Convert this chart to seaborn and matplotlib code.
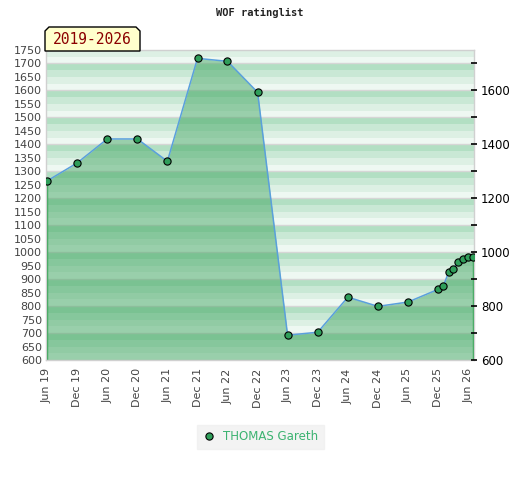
import matplotlib
matplotlib.use("Agg")
import matplotlib.pyplot as plt
import matplotlib.dates as mdates
from matplotlib.lines import Line2D
from matplotlib.patches import Polygon
import seaborn as sns
import pandas as pd

# rating history
dates = ["2019-06-01", "2019-12-01", "2020-06-01", "2020-12-01", "2021-06-01",
         "2021-12-01", "2022-06-01", "2022-12-01", "2023-06-01", "2023-12-01",
         "2024-06-01", "2024-12-01", "2025-06-01", "2025-12-01", "2026-01-01",
         "2026-02-03", "2026-03-01", "2026-04-01", "2026-05-01", "2026-06-01",
         "2026-07-01"]
ratings = [1264, 1331, 1420, 1420, 1337, 1719, 1708, 1593, 692, 703,
           833, 799, 815, 862, 873, 926, 936, 964, 974, 981, 982]
player = "THOMAS Gareth"
period = "2019-2026"
tick_dates = ["2019-06-01", "2019-12-01", "2020-06-01", "2020-12-01", "2021-06-01",
              "2021-12-01", "2022-06-01", "2022-12-01", "2023-06-01", "2023-12-01",
              "2024-06-01", "2024-12-01", "2025-06-01", "2025-12-01", "2026-06-01"]

df = pd.DataFrame({"date": pd.to_datetime(dates), "rating": ratings})
ticks = pd.to_datetime(tick_dates)

sns.set_style("white")
plt.rcParams['font.family'] = ['DejaVu Sans']

fig = plt.figure(figsize=(5.2, 4.8), dpi=100)
ax = fig.add_axes([46 / 520, 1 - 360 / 480, 428 / 520, 310 / 480])

ymin, ymax = 600, 1750
# striped background, each 100 band fades from dark at top to light at bottom
shades = ["#eef8f2", "#ddf0e4", "#c9e8d5", "#b2dfc3"]
for base in range(ymin, 1800, 100):
    for k, c in enumerate(shades):
        ax.axhspan(base + 25 * k, base + 25 * (k + 1), color=c, lw=0, zorder=0)
    ax.axhline(base, color="#d6d6d6", lw=1, zorder=0.5)

# area under the curve
ax.fill_between(df["date"], ymin, df["rating"], color="#3ea45e", alpha=0.48, lw=0, zorder=1)
ax.vlines([df["date"].iloc[0], df["date"].iloc[-1]], ymin,
          [df["rating"].iloc[0], df["rating"].iloc[-1]], color="#2ea44f", lw=1, zorder=2)

sns.lineplot(data=df, x="date", y="rating", ax=ax, color="#5aa0dc", lw=1.1,
             marker="o", markersize=5.2, markerfacecolor="#2f9e5a",
             markeredgecolor="black", markeredgewidth=0.8, zorder=3)

ax.set_ylim(ymin, ymax)
ax.set_xlim(df["date"].iloc[0] - pd.Timedelta(days=6), df["date"].iloc[-1] + pd.Timedelta(days=6))
ax.set_yticks(range(600, 1751, 50))
ax.set_xticks(ticks)
ax.xaxis.set_major_formatter(mdates.DateFormatter("%b %y"))
ax.tick_params(axis="x", rotation=90, labelsize=8, labelcolor="#444444", length=0, pad=6)
ax.tick_params(axis="y", labelsize=8, labelcolor="#444444", length=0, pad=3)
ax.set_xlabel("")
ax.set_ylabel("")
for s in ax.spines.values():
    s.set_color("#d0d0d0")
    s.set_linewidth(1)

ax2 = ax.twinx()
ax2.set_ylim(ymin, ymax)
ax2.set_yticks(range(600, 1601, 200))
ax2.set_yticks(range(700, 1701, 200), minor=True)
ax2.tick_params(axis="y", which="both", direction="inout", length=4, width=1.2,
                color="black", labelsize=8.5, labelcolor="black", pad=3)
for s in ax2.spines.values():
    s.set_visible(False)

# period tag with chamfered corners
x0, x1 = 45 / 520, 140 / 520
y0, y1 = 1 - 51 / 480, 1 - 27 / 480
cx, cy = 4 / 520, 4 / 480
tag = Polygon([(x0, y0), (x0, y1 - cy), (x0 + cx, y1), (x1 - cx, y1), (x1, y1 - cy), (x1, y0)],
              closed=True, transform=fig.transFigure, facecolor="#ffffcc",
              edgecolor="black", lw=1, zorder=5)
fig.patches.append(tag)
fig.text((x0 + x1) / 2, (y0 + y1) / 2 - 0.002, period, ha="center", va="center",
         color="#8b0000", fontsize=10.5, family="DejaVu Sans Mono", zorder=6)

fig.text(0.5, 1 - 13 / 480, "WOF ratinglist", ha="center", va="center",
         fontsize=7.5, family="DejaVu Sans Mono", fontweight="bold", color="#222222")

handle = Line2D([], [], ls="none", marker="o", markersize=5.2, markerfacecolor="#2f9e5a",
                markeredgecolor="black", markeredgewidth=0.8)
leg = fig.legend([handle], [player], loc="center", bbox_to_anchor=(0.5, 1 - 437 / 480),
                 frameon=True, fancybox=False, fontsize=8.5, handletextpad=0.6,
                 borderpad=0.45, handlelength=1.2)
leg.get_frame().set_facecolor("#f0f0f0")
leg.get_frame().set_edgecolor("#f0f0f0")
for t in leg.get_texts():
    t.set_color("#3cb371")

fig.savefig("out.png", dpi=100)
